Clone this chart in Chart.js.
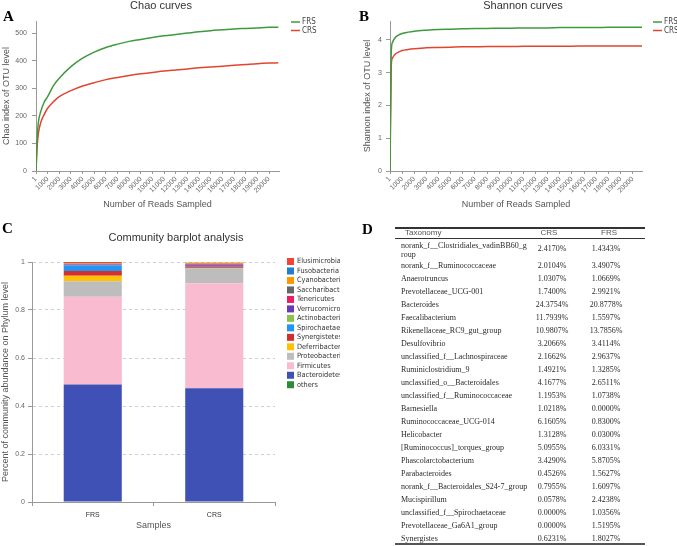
<!DOCTYPE html>
<html>
<head>
<meta charset="utf-8">
<script src="https://cdn.jsdelivr.net/npm/chart.js@4/dist/chart.umd.min.js"></script>
<style>
  html, body { margin: 0; padding: 0; background: #fff; }
  body { width: 677px; height: 546px; position: relative; overflow: hidden; }
  canvas { position: absolute; }
  .letter { position: absolute; font: bold 15px 'Liberation Serif', serif; line-height: 15px; color: #000; }
  .tx { position: absolute; white-space: nowrap; font: 8px 'Liberation Serif', serif; color: #2a2a2a; line-height: 10px; }
  .rule { position: absolute; left: 395px; width: 250px; background: #333; }
</style>
</head>
<body>
<canvas id="chartA" width="340" height="215" style="left:0;top:0;"></canvas>
<canvas id="chartB" width="337" height="215" style="left:340px;top:0;"></canvas>
<canvas id="chartC" width="340" height="324" style="left:0;top:222px;"></canvas>
<div class="letter" style="left:3px;top:9px;">A</div>
<div class="letter" style="left:359px;top:9px;">B</div>
<div class="letter" style="left:2px;top:221px;">C</div>
<div class="letter" style="left:362px;top:222px;">D</div>
<div id="tableD"></div>
<script>
// ---------------- DATA ----------------
const readsSampled = [1,100,200,400,700,1000,1500,2000,3000,4000,5000,6000,7000,8000,9000,10000,11000,12000,13000,14000,15000,16000,17000,18000,19000,20000,20800];
const chaoFRS = [0,120,175,215,250,270,310,337,379,410,432,449,461,471,478,485,491,496,501,506,510,513,516,518,520,522,522];
const chaoCRS = [0,90,135,175,205,228,252,270,292,309,321,332,340,347,353,358,363,367,371,375,378,381,384,387,390,392,393];
const shannonFRS = [0,3.6,3.92,4.06,4.15,4.2,4.24,4.27,4.3,4.32,4.33,4.34,4.35,4.35,4.36,4.36,4.37,4.37,4.37,4.38,4.38,4.38,4.38,4.39,4.39,4.39,4.39];
const shannonCRS = [0,3.2,3.45,3.56,3.63,3.68,3.71,3.73,3.76,3.77,3.78,3.79,3.79,3.80,3.80,3.80,3.81,3.81,3.81,3.81,3.81,3.82,3.82,3.82,3.82,3.82,3.82];
const readTicks = [1,1000,2000,3000,4000,5000,6000,7000,8000,9000,10000,11000,12000,13000,14000,15000,16000,17000,18000,19000,20000];
const chaoTicks = [0,100,200,300,400,500];
const shannonTicks = [0,1,2,3,4];
const abundanceTicks = [0,0.2,0.4,0.6,0.8,1];

const samples = ['FRS','CRS'];
const phyla = ['others','Bacteroidetes','Firmicutes','Proteobacteria','Deferribacteres','Synergistetes','Spirochaetae','Actinobacteria','Verrucomicrobia','Tenericutes','Saccharibacteria','Cyanobacteria','Fusobacteria','Elusimicrobia'];
const phylumFRS = [0,0.490,0.365,0.065,0.023,0.020,0.023,0.002,0.001,0.002,0.002,0.002,0.001,0.004];
const phylumCRS = [0,0.474,0.437,0.062,0.001,0.004,0.001,0.001,0.006,0.004,0.003,0.004,0.000,0.001];
const phylumColors = ['#2e8b3a','#3f51b5','#f8bbd0','#bdbdbd','#ffc107','#d32f2f','#2196f3','#8bc34a','#673ab7','#e91e63','#666666','#ff9800','#1e7fd0','#f44336'];

const taxa = ['norank_f__Clostridiales_vadinBB60_group','norank_f__Ruminococcaceae','Anaerotruncus','Prevotellaceae_UCG-001','Bacteroides','Faecalibacterium','Rikenellaceae_RC9_gut_group','Desulfovibrio','unclassified_f__Lachnospiraceae','Ruminiclostridium_9','unclassified_o__Bacteroidales','unclassified_f__Ruminococcaceae','Barnesiella','Ruminococcaceae_UCG-014','Helicobacter','[Ruminococcus]_torques_group','Phascolarctobacterium','Parabacteroides','norank_f__Bacteroidales_S24-7_group','Mucispirillum','unclassified_f__Spirochaetaceae','Prevotellaceae_Ga6A1_group','Synergistes'];
const taxaCRS = ['2.4170%','2.0104%','1.0307%','1.7400%','24.3754%','11.7939%','10.9807%','3.2066%','2.1662%','1.4921%','4.1677%','1.1953%','1.0218%','6.1605%','1.3128%','5.0955%','3.4290%','0.4526%','0.7955%','0.0578%','0.0000%','0.0000%','0.6231%'];
const taxaFRS = ['1.4343%','3.4907%','1.0669%','2.9921%','20.8778%','1.5597%','13.7856%','3.4114%','2.9637%','1.3285%','2.6511%','1.0738%','0.0000%','0.8300%','0.0300%','6.0331%','5.8705%','1.5627%','1.6097%','2.4238%','1.0356%','1.5195%','1.8027%'];

// ---------------- HELPERS ----------------
const SANS = "'Liberation Sans', Arial, sans-serif";
const NARROW = "'Liberation Sans Narrow', 'DejaVu Sans Condensed', 'Liberation Sans', sans-serif";
Chart.defaults.font.family = SANS;
Chart.defaults.animation = false;

const panelText = {
  id: 'panelText',
  afterDraw(chart, args, opts) {
    const ctx = chart.ctx;
    ctx.save();
    (opts.texts || []).forEach(t => {
      ctx.font = t.font; ctx.fillStyle = t.color; ctx.textAlign = t.align || 'center'; ctx.textBaseline = 'middle';
      ctx.fillText(t.text, t.x, t.y);
    });
    const lg = opts.legend;
    if (lg) {
      ctx.font = lg.font; ctx.textAlign = 'left'; ctx.textBaseline = 'middle';
      const ds = lg.reverse ? chart.data.datasets.slice().reverse() : chart.data.datasets;
      ds.forEach((d, i) => {
        const y = lg.y + i * lg.step;
        if (lg.type === 'line') {
          ctx.strokeStyle = d.borderColor; ctx.lineWidth = 1.5;
          ctx.beginPath(); ctx.moveTo(lg.x, y); ctx.lineTo(lg.x + lg.w, y); ctx.stroke();
        } else {
          ctx.fillStyle = d.backgroundColor; ctx.fillRect(lg.x, y - lg.w / 2, lg.w, lg.w);
        }
        ctx.fillStyle = lg.color; ctx.fillText(d.label, lg.x + lg.w + lg.gap, y);
      });
    }
    ctx.restore();
  }
};

function pts(ys) { return readsSampled.map((x, i) => ({ x: x, y: ys[i] })); }

function lineChart(id, cfg) {
  return new Chart(document.getElementById(id), {
    type: 'line',
    data: {
      datasets: [
        { label: 'FRS', data: pts(cfg.frs), borderColor: '#3f9a3f', borderWidth: 1.5, pointRadius: 0, cubicInterpolationMode: 'monotone', fill: false },
        { label: 'CRS', data: pts(cfg.crs), borderColor: '#e2452f', borderWidth: 1.5, pointRadius: 0, cubicInterpolationMode: 'monotone', fill: false }
      ]
    },
    options: {
      responsive: false,
      layout: { padding: { top: 21, right: cfg.padRight, left: 0, bottom: 0 } },
      plugins: {
        legend: { display: false }, tooltip: { enabled: false },
        panelText: {
          texts: [{ text: cfg.title, x: cfg.titleX, y: 5.5, font: '11px ' + SANS, color: '#333' }],
          legend: { type: 'line', x: cfg.legX, y: 22, step: 8.5, w: 9, gap: 2, font: '8px ' + NARROW, color: '#444' }
        }
      },
      scales: {
        x: {
          type: 'linear', min: 1, max: cfg.xMax,
          afterBuildTicks: s => { s.ticks = readTicks.map(v => ({ value: v })); },
          afterFit: s => { s.height = 44; },
          ticks: { autoSkip: false, minRotation: 45, maxRotation: 45, font: { size: 7 }, color: '#666', padding: 1, callback: v => String(v) },
          grid: { drawOnChartArea: false, tickLength: 3, tickColor: '#999' },
          border: { color: '#999' },
          title: { display: true, text: 'Number of Reads Sampled', font: { size: 9 }, color: '#555', padding: { top: 0, bottom: 5 } }
        },
        y: {
          min: 0, max: cfg.yMax,
          afterBuildTicks: s => { s.ticks = cfg.yTicks.map(v => ({ value: v })); },
          afterFit: s => { s.width = cfg.yWidth; },
          ticks: { font: { size: 7 }, color: '#666', padding: cfg.yPad },
          grid: { drawOnChartArea: false, tickLength: 4, tickColor: '#999' },
          border: { color: '#999' },
          title: { display: true, text: cfg.yTitle, font: { size: 9 }, color: '#555', padding: { top: cfg.yTitlePad, bottom: 0 } }
        }
      }
    },
    plugins: [panelText]
  });
}

lineChart('chartA', {
  frs: chaoFRS, crs: chaoCRS, title: 'Chao curves', titleX: 161, padRight: 61, legX: 291,
  xMax: 20858, yMax: 545, yTicks: chaoTicks, yWidth: 36, yPad: 5, yTitle: 'Chao index of OTU level', yTitlePad: 1
});
lineChart('chartB', {
  frs: shannonFRS, crs: shannonCRS, title: 'Shannon curves', titleX: 183, padRight: 35, legX: 313,
  xMax: 20770, yMax: 4.58, yTicks: shannonTicks, yWidth: 50, yPad: 4, yTitle: 'Shannon index of OTU level', yTitlePad: 22
});

new Chart(document.getElementById('chartC'), {
  type: 'bar',
  data: {
    labels: samples,
    datasets: phyla.map((p, i) => ({
      label: p, data: [phylumFRS[i], phylumCRS[i]], backgroundColor: phylumColors[i],
      borderWidth: 0, barPercentage: 0.478, categoryPercentage: 1
    }))
  },
  options: {
    responsive: false,
    layout: { padding: { top: 40, right: 65, left: 0, bottom: 0 } },
    plugins: {
      legend: { display: false }, tooltip: { enabled: false },
      panelText: {
        texts: [{ text: 'Community barplot analysis', x: 176, y: 16, font: '11px ' + SANS, color: '#333' }],
        legend: { type: 'box', reverse: true, x: 287, y: 39.5, step: 9.48, w: 7, gap: 3, font: '7.3px ' + NARROW, color: '#333' }
      }
    },
    scales: {
      x: {
        stacked: true,
        afterFit: s => { s.height = 44; },
        ticks: { font: { size: 7 }, color: '#333', padding: 5 },
        grid: { drawOnChartArea: false, tickLength: 4, tickColor: '#999' },
        border: { color: '#999' },
        title: { display: true, text: 'Samples', font: { size: 9 }, color: '#555', padding: { top: 0, bottom: 15 } }
      },
      y: {
        stacked: true, min: 0, max: 1,
        afterBuildTicks: s => { s.ticks = abundanceTicks.map(v => ({ value: v })); },
        afterFit: s => { s.width = 32; },
        ticks: { font: { size: 7 }, color: '#666', padding: 3, callback: v => String(v) },
        grid: { color: '#cfcfcf', tickLength: 4, tickColor: '#999' },
        border: { color: '#999', dash: [3, 3] },
        title: { display: true, text: 'Percent of community abundance on Phylum level', font: { size: 9 }, color: '#555', padding: { top: 0, bottom: 0 } }
      }
    }
  },
  plugins: [panelText]
});

// ---------------- TABLE D ----------------
(function () {
  const root = document.getElementById('tableD');
  function add(cls, css, text) {
    const d = document.createElement('div'); d.className = cls; d.style.cssText = css; if (text != null) d.textContent = text; root.appendChild(d); return d;
  }
  add('rule', 'top:227px;height:1.6px;');
  add('rule', 'top:237.6px;height:1.3px;');
  add('rule', 'top:543px;height:1.8px;background:#555;');
  add('tx', "left:405px;top:228px;font-family:" + SANS + ";color:#555;", 'Taxonomy');
  add('tx', "left:549px;top:228px;transform:translateX(-50%);font-family:" + SANS + ";color:#555;", 'CRS');
  add('tx', "left:609px;top:228px;transform:translateX(-50%);font-family:" + SANS + ";color:#555;", 'FRS');
  taxa.forEach((name, i) => {
    let cy;
    if (i === 0) {
      cy = 249;
      add('tx', 'left:401px;top:' + (245.5 - 5) + 'px;', name.slice(0, 35));
      add('tx', 'left:401px;top:' + (254.5 - 5) + 'px;', name.slice(35));
    } else {
      cy = 265.5 + 13.0 * (i - 1);
      add('tx', 'left:401px;top:' + (cy - 5) + 'px;', name);
    }
    add('tx', 'left:552px;top:' + (cy - 5) + 'px;transform:translateX(-50%);', taxaCRS[i]);
    add('tx', 'left:606px;top:' + (cy - 5) + 'px;transform:translateX(-50%);', taxaFRS[i]);
  });
})();
</script>
</body>
</html>
